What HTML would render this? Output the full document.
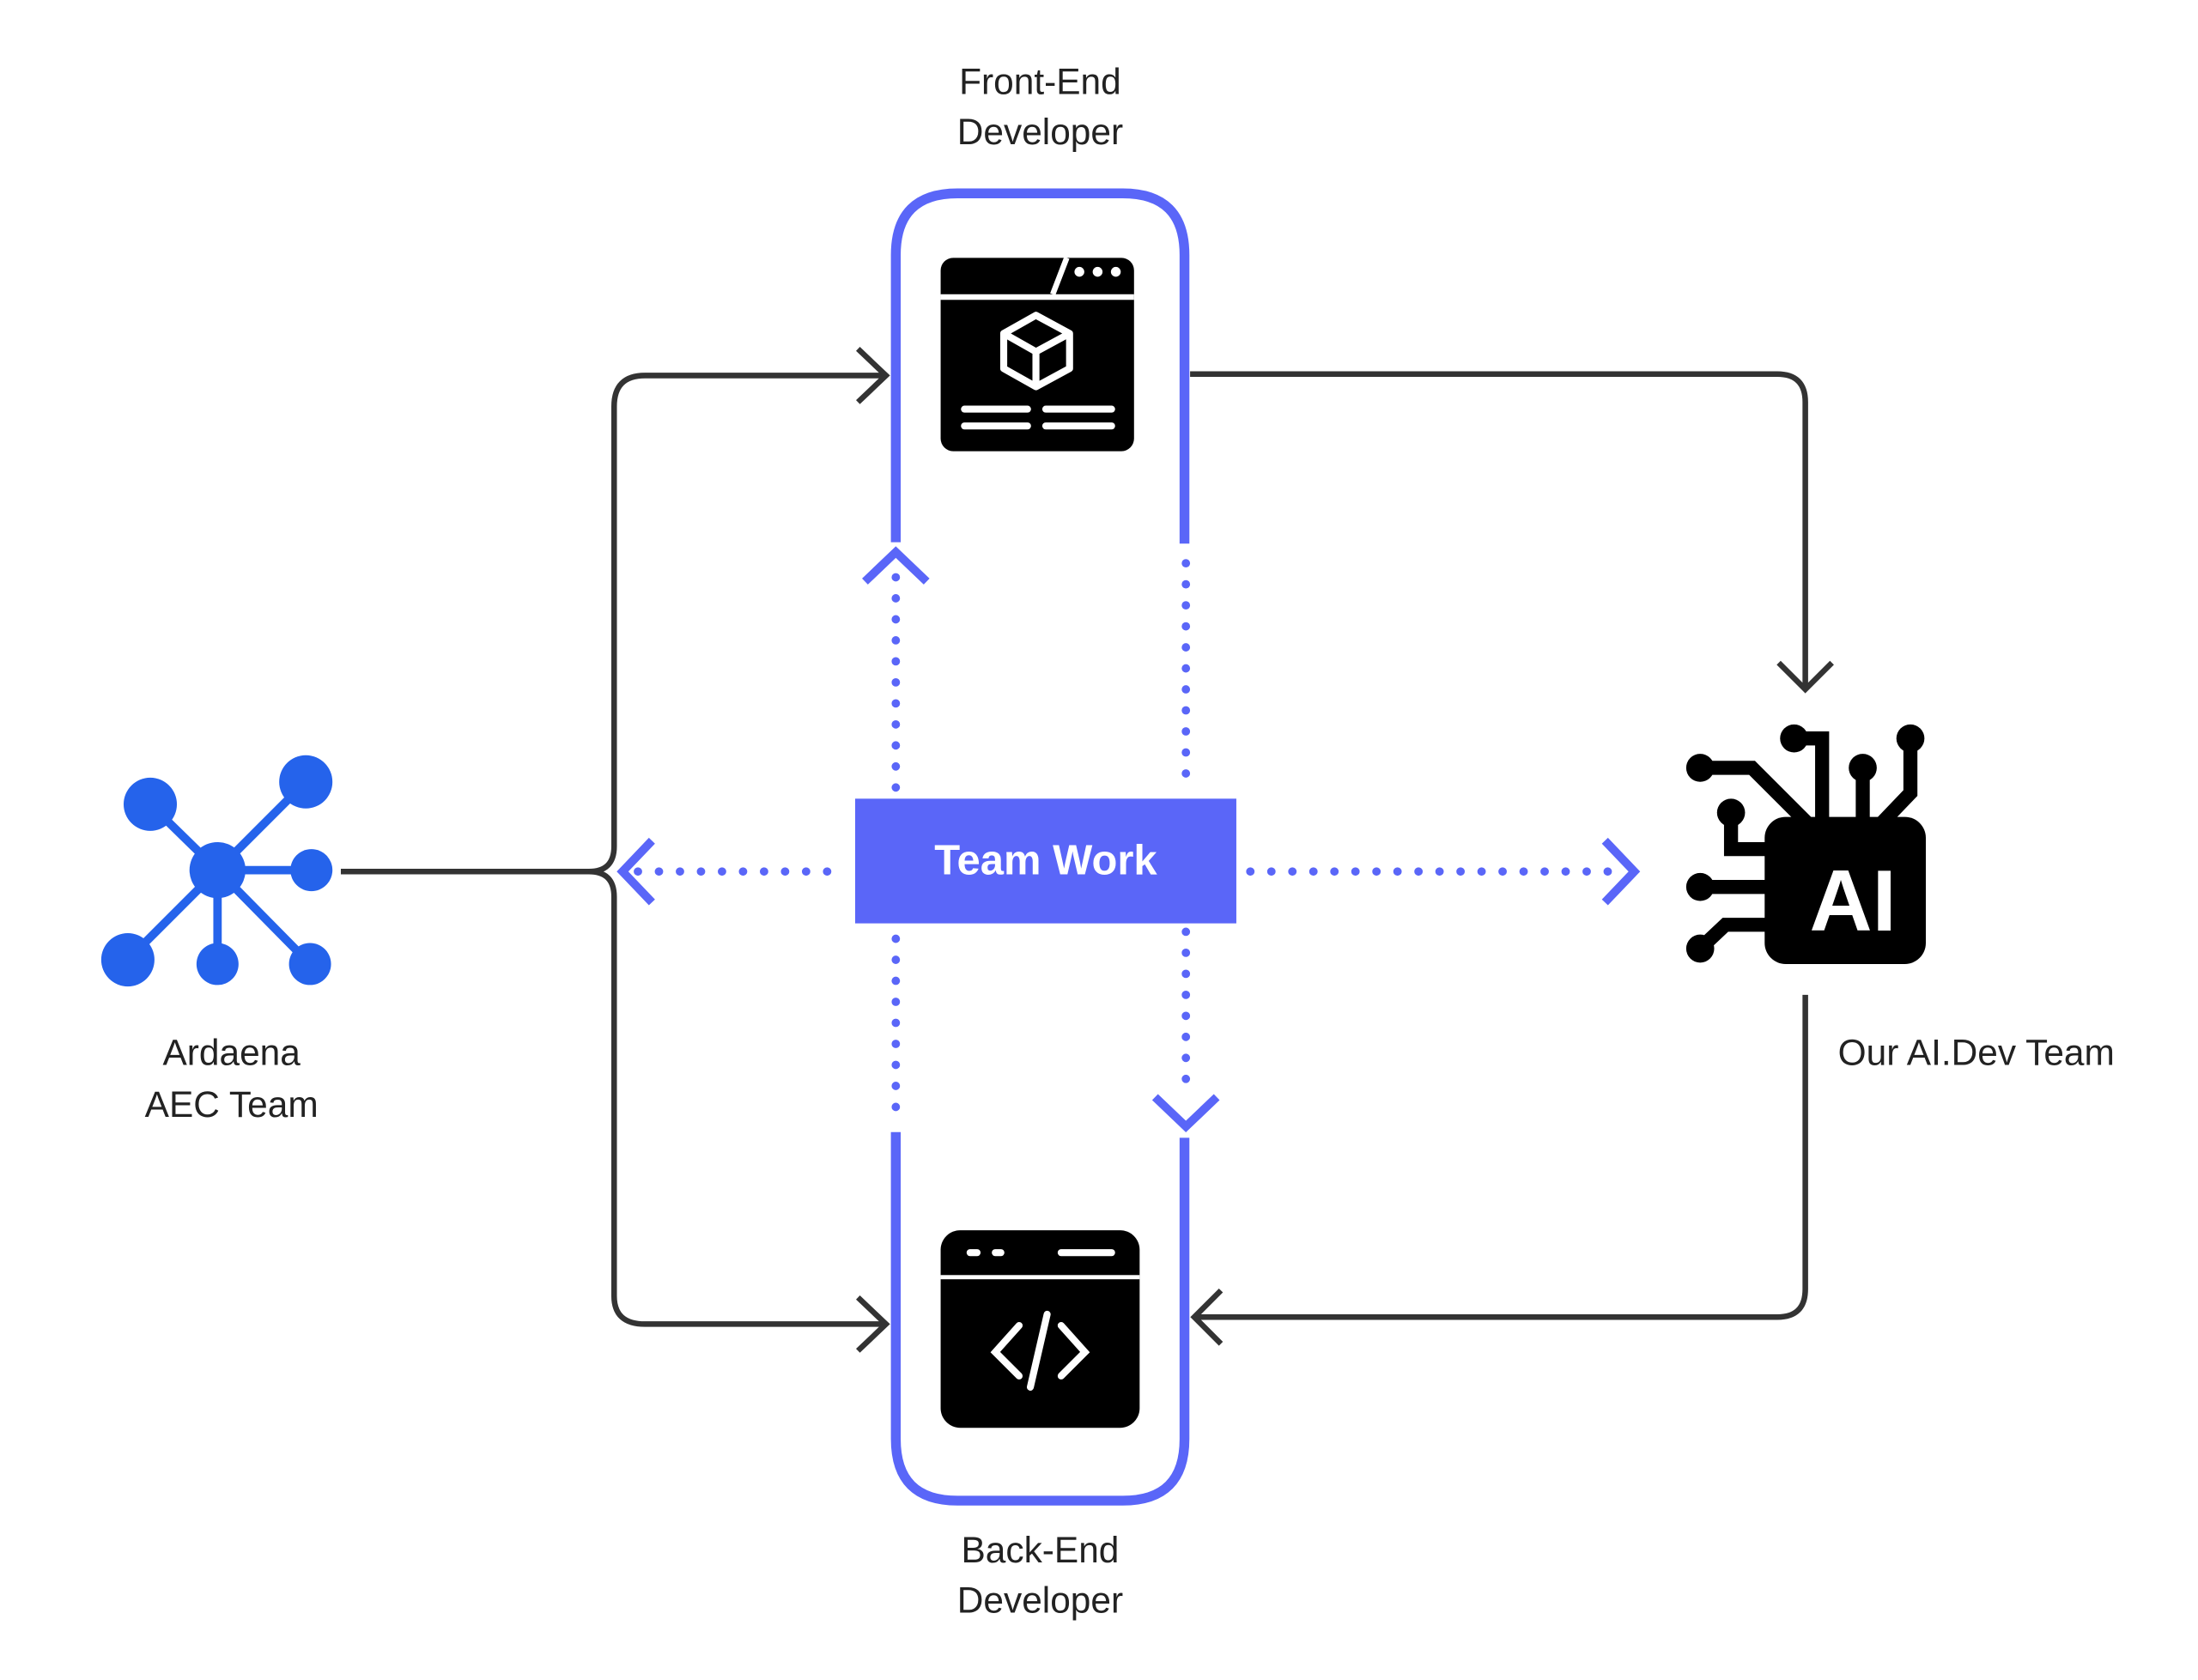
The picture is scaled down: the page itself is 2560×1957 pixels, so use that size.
<!DOCTYPE html>
<html><head><meta charset="utf-8"><style>html,body{margin:0;padding:0;background:#fff}svg{display:block}text{font-family:"Liberation Sans","DejaVu Sans",sans-serif}</style></head>
<body>
<svg width="2560" height="1957" viewBox="0 0 1568 1199" xmlns="http://www.w3.org/2000/svg">
<rect width="1568" height="1199" fill="#fff"/>
<g fill="none" stroke="#5a66f8" stroke-width="7" stroke-linecap="butt">
<path d="M639,387 V182 Q639,138 683,138 H801 Q845,138 845,182 V388"/>
<path d="M639,808 V1027 Q639,1071 683,1071 H801 Q845,1071 845,1027 V812"/>
</g>
<g fill="none" stroke="#5a66f8" stroke-width="6" stroke-linecap="round" stroke-dasharray="0 15">
<path d="M639,412 V565"/><path d="M639,670 V800"/>
<path d="M846,402 V560"/><path d="M846,665 V780"/>
<path d="M455,622 H600"/><path d="M892,622 H1155"/>
</g>
<g fill="none" stroke="#5a66f8" stroke-width="6">
<path d="M617,415 L639,394 L661,415"/>
<path d="M824,783 L846,804 L868,783"/>
<path d="M465,600 L444,622 L465,644"/>
<path d="M1145,600 L1166,622 L1145,644"/>
</g>
<rect x="610" y="570" width="272" height="89" fill="#5a66f8"/>
<text x="746" y="624" font-size="30" font-weight="bold" fill="#fff" text-anchor="middle">Team Work</text>
<g fill="none" stroke="#333" stroke-width="4">
<path d="M243,622 H420 Q438,622 438,604 V290 Q438,268 460,268 H632"/>
<path d="M420,622 Q438,622 438,640 V925 Q438,945 460,945 H632"/>
<path d="M612,249 L632,268 L612,287"/>
<path d="M612,926 L632,945 L612,964"/>
<path d="M849,267 H1268 Q1288,267 1288,287 V490"/>
<path d="M1269,473 L1288,492 L1307,473"/>
<path d="M1288,710 V920 Q1288,940 1268,940 H852"/>
<path d="M871,921 L852,940 L871,959"/>
</g>
<g fill="#222" font-size="26" text-anchor="middle">
<text x="742" y="67">Front-End</text><text x="742" y="103">Developer</text>
<text x="742" y="1115">Back-End</text><text x="742" y="1151">Developer</text>
<text x="165" y="760">Ardaena</text><text x="165" y="797">AEC Team</text>
<text x="1410" y="760">Our AI.Dev Team</text>
</g>
<g stroke="#2563eb" stroke-width="6" fill="#2563eb">
<line x1="155" y1="621" x2="107" y2="574"/><line x1="155" y1="621" x2="218" y2="558"/>
<line x1="155" y1="621" x2="222" y2="621"/><line x1="155" y1="621" x2="91" y2="685"/>
<line x1="155" y1="621" x2="155" y2="688"/><line x1="155" y1="621" x2="221" y2="688"/>
<g stroke="none"><circle cx="155" cy="621" r="20"/><circle cx="107" cy="574" r="19"/><circle cx="218" cy="558" r="19"/><circle cx="222" cy="621" r="15"/><circle cx="91" cy="685" r="19"/><circle cx="155" cy="688" r="15"/><circle cx="221" cy="688" r="15"/></g>
</g>
<!-- front icon -->
<rect x="671" y="184" width="138" height="138" rx="9" fill="#000"/>
<rect x="671" y="210" width="138" height="4" fill="#fff"/>
<path d="M761,184 L751,210" stroke="#fff" stroke-width="4"/>
<g fill="#fff"><circle cx="770" cy="194" r="3.5"/><circle cx="783" cy="194" r="3.5"/><circle cx="796" cy="194" r="3.5"/></g>
<g fill="none" stroke="#fff" stroke-width="5" stroke-linejoin="round">
<path d="M739,225 L763,238 V263 L739,276 L716,263 V238 Z"/><path d="M716,238 L739,251 L763,238 M739,251 V276"/>
</g>
<g stroke="#fff" stroke-width="5" stroke-linecap="round"><path d="M688,292 H733 M746,292 H793 M688,304 H733 M746,304 H793"/></g>
<!-- back icon -->
<rect x="671" y="878" width="142" height="141" rx="14" fill="#000"/>
<rect x="671" y="910" width="142" height="3" fill="#fff"/>
<g stroke="#fff" stroke-width="5" stroke-linecap="round" fill="none">
<path d="M692,894 H697 M710,894 H714 M757,894 H793"/>
<path d="M727,946 L710,965 L727,982 M757,946 L774,965 L757,982 M747,938 L735,990"/>
</g>
<!-- AI icon -->
<g fill="#000" stroke="#000" stroke-width="10">
<path fill="none" d="M1213,548 H1250 L1295,593 M1280,527 H1300 V590 M1329,548 V590 M1363,527 V566 L1340,590 M1235,580 V606 H1262 M1213,633 H1262 M1213,677 L1231,660 H1262"/>
<g stroke="none"><circle cx="1213" cy="548" r="10"/><circle cx="1280" cy="527" r="10"/><circle cx="1329" cy="548" r="10"/><circle cx="1363" cy="527" r="10"/><circle cx="1235" cy="580" r="10"/><circle cx="1213" cy="633" r="10"/><circle cx="1213" cy="677" r="10"/></g>
</g>
<rect x="1259" y="583" width="115" height="105" rx="15" fill="#000"/>
<text x="1322" y="664" font-size="62" font-weight="bold" fill="#fff" text-anchor="middle">AI</text>
</svg>
</body></html>
